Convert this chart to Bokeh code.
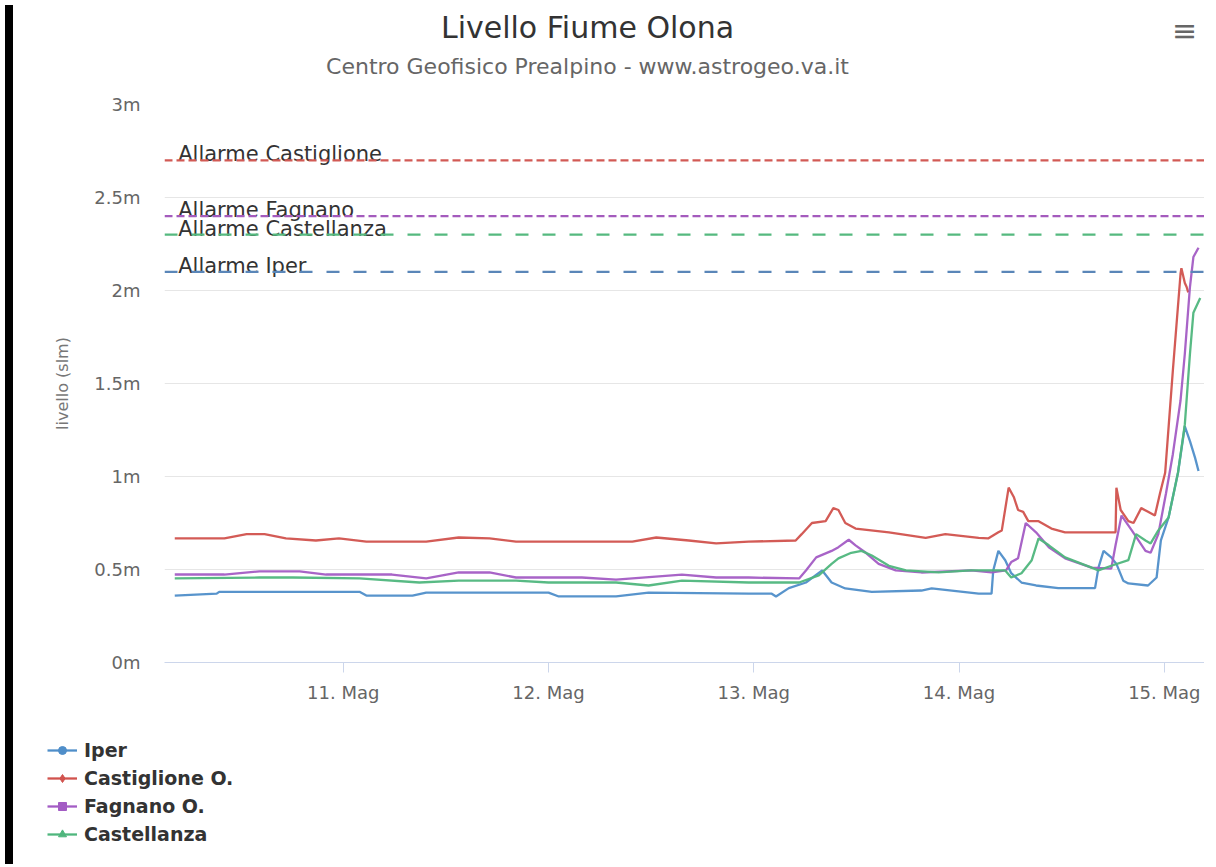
import pandas as pd
from bokeh.plotting import figure
from bokeh.layouts import row, column
from bokeh.models import (Range1d, FixedTicker, DatetimeTickFormatter, Span, Label,
                          Legend, LegendItem, ColumnDataSource, Div)
from bokeh.embed import file_html
from bokeh.resources import INLINE

START = pd.Timestamp("2019-05-10 00:00")

# hours since 10 May 00:00 and level (m)
iper_h = [4.3, 9.2, 9.5, 18.9, 25.9, 26.7, 32.1, 33.7, 48.0, 49.2, 55.9, 59.7, 71.4, 74.1, 74.6,
          76.1, 78.1, 80.0, 81.1, 82.7, 85.8, 91.6, 92.8, 98.3, 99.8, 100.0, 100.6, 101.4, 102.1,
          103.3, 105.0, 107.6, 111.9, 112.3, 112.9, 113.8, 114.4, 115.2, 115.8, 118.1, 119.1,
          119.6, 120.5, 121.6, 122.4, 123.0, 123.6, 124.0]
iper_v = [0.36, 0.37, 0.38, 0.38, 0.38, 0.36, 0.36, 0.376, 0.376, 0.355, 0.355, 0.376, 0.37, 0.37, 0.355,
          0.40, 0.43, 0.495, 0.43, 0.398, 0.38, 0.387, 0.398, 0.37, 0.37, 0.495, 0.60, 0.55, 0.48,
          0.43, 0.414, 0.40, 0.40, 0.51, 0.60, 0.565, 0.53, 0.44, 0.425, 0.414, 0.457,
          0.656, 0.78, 1.02, 1.27, 1.19, 1.10, 1.03]

cast_h = [4.3, 10.1, 12.7, 14.8, 17.3, 20.8, 23.5, 26.7, 33.7, 37.5, 41.1, 44.2, 50.0, 57.8, 60.6,
          64.4, 67.6, 71.4, 76.9, 77.6, 78.8, 80.4, 81.3, 81.9, 82.7, 83.9, 87.8, 92.1, 94.4, 98.3,
          99.4, 100.6, 101.0, 101.8, 102.4, 102.9, 103.5, 104.1, 105.3, 106.8, 108.4, 114.3, 114.4,
          114.9, 115.8, 116.4, 117.3, 118.1, 118.9, 119.5, 120.1, 121.0, 121.9, 122.0, 122.4, 122.6,
          122.8]
cast_v = [0.667, 0.667, 0.69, 0.69, 0.667, 0.656, 0.667, 0.65, 0.65, 0.672, 0.667, 0.65, 0.65, 0.65, 0.672,
          0.656, 0.64, 0.65, 0.656, 0.69, 0.75, 0.76, 0.83, 0.82, 0.75, 0.72, 0.70, 0.67, 0.69, 0.67,
          0.667, 0.70, 0.71, 0.94, 0.89, 0.82, 0.81, 0.76, 0.76, 0.72, 0.70, 0.70, 0.94,
          0.82, 0.76, 0.75, 0.83, 0.81, 0.79, 0.91, 1.02, 1.57, 2.09, 2.12, 2.04, 2.02,
          1.99]

fagn_h = [4.3, 10.1, 14.2, 18.9, 22.0, 29.7, 33.7, 37.5, 41.1, 44.2, 51.9, 55.9, 63.6, 67.6, 71.4,
          77.3, 78.1, 79.3, 81.1, 81.9, 83.1, 83.9, 85.1, 86.6, 88.6, 91.6, 97.4, 99.8, 101.5,
          102.1, 102.9, 103.8, 105.0, 106.5, 108.4, 111.5, 113.8, 114.3, 115.0, 116.2, 117.8,
          118.4, 119.3, 120.2, 121.0, 121.9, 122.4, 123.0, 123.4, 124.0]
fagn_v = [0.473, 0.473, 0.49, 0.49, 0.473, 0.473, 0.452, 0.484, 0.484, 0.457, 0.457, 0.446, 0.473, 0.457, 0.457,
          0.452, 0.495, 0.565, 0.60, 0.62, 0.66, 0.63, 0.59, 0.53, 0.495, 0.484, 0.495, 0.484, 0.495,
          0.54, 0.56, 0.75, 0.70, 0.62, 0.56, 0.51, 0.505, 0.63, 0.79, 0.71, 0.60,
          0.59, 0.69, 0.91, 1.12, 1.41, 1.66, 2.02, 2.18, 2.23]

castel_h = [4.3, 14.2, 18.1, 25.9, 32.9, 37.5, 44.2, 48.0, 55.9, 59.7, 63.6, 71.4, 77.3, 79.6,
            81.1, 81.9, 83.4, 84.6, 85.8, 87.8, 89.8, 93.6, 97.4, 101.4, 102.1, 103.3, 104.5,
            105.3, 106.5, 108.4, 111.5, 112.3, 113.8, 115.8, 116.7, 117.8, 118.4, 119.3, 120.5,
            121.6, 122.4, 123.0, 123.4, 124.2]
castel_v = [0.452, 0.457, 0.457, 0.452, 0.43, 0.44, 0.44, 0.43, 0.43, 0.414, 0.44, 0.43, 0.43, 0.468,
            0.53, 0.56, 0.59, 0.60, 0.575, 0.52, 0.495, 0.484, 0.495, 0.495, 0.457, 0.48, 0.55,
            0.667, 0.63, 0.565, 0.51, 0.495, 0.52, 0.55, 0.69, 0.656, 0.64, 0.71, 0.78,
            1.02, 1.28, 1.66, 1.88, 1.96]

series_names = ["Iper", "Castiglione O.", "Fagnano O.", "Castellanza"]
series_colors = ["#4f8ec9", "#d1524d", "#a35cc4", "#4fb67d"]
series_markers = ["circle", "diamond", "square", "triangle"]

alarm_names = ["Allarme Castiglione", "Allarme Fagnano", "Allarme Castellanza", "Allarme Iper"]
alarm_levels = [2.7, 2.4, 2.3, 2.1]
alarm_colors = ["#d25a55", "#a45bbd", "#55b97f", "#5a86b8"]
alarm_dashes = ["8 4", "8 4", "13 14", "13 14"]

y_ticks = [0, 0.5, 1, 1.5, 2, 2.5, 3]
y_labels = ["0m", "0.5m", "1m", "1.5m", "2m", "2.5m", "3m"]
x_tick_days = ["2019-05-11", "2019-05-12", "2019-05-13", "2019-05-14", "2019-05-15"]
x_labels = ["11. Mag", "12. Mag", "13. Mag", "14. Mag", "15. Mag"]

TITLE = "Livello Fiume Olona"
SUBTITLE = "Centro Geofisico Prealpino - www.astrogeo.va.it"

FONT = "DejaVu Sans"
W = 1186


def to_time(hours):
    return [START + pd.Timedelta(hours=h) for h in hours]


def no_align(f):
    try:
        f.frame_align = False
    except Exception:
        pass


def blank(h):
    f = figure(width=W, height=h, output_backend="svg", toolbar_location=None,
               x_axis_location=None, y_axis_location=None,
               min_border=0, min_border_left=0, min_border_right=0,
               min_border_top=0, min_border_bottom=0)
    f.x_range = Range1d(0, 1)
    f.y_range = Range1d(0, 1)
    f.grid.visible = False
    f.outline_line_color = None
    no_align(f)
    return f


all_h = [iper_h, cast_h, fagn_h, castel_h]
all_v = [iper_v, cast_v, fagn_v, castel_v]
sources = [ColumnDataSource(dict(t=to_time(hs), v=vs)) for hs, vs in zip(all_h, all_v)]

# ---------- header ----------
hdr = blank(90)
hdr.add_layout(Label(x=569, y=63, x_units="screen", y_units="screen", text=TITLE,
                     text_align="center", text_baseline="alphabetic", text_font=FONT,
                     text_font_size="30px", text_color="#333333"))
hdr.add_layout(Label(x=569, y=24, x_units="screen", y_units="screen", text=SUBTITLE,
                     text_align="center", text_baseline="alphabetic", text_font=FONT,
                     text_font_size="22px", text_color="#666666"))
hdr.add_layout(Label(x=1166, y=60, x_units="screen", y_units="screen", text="≡",
                     text_align="center", text_baseline="middle", text_font=FONT,
                     text_font_size="30px", text_color="#666666"))

# ---------- main chart ----------
p = figure(width=W, height=630, x_axis_type="datetime",
           output_backend="svg", toolbar_location=None,
           min_border_left=146, min_border_right=0, min_border_top=14, min_border_bottom=58)
no_align(p)
p.x_range = Range1d(START + pd.Timedelta(hours=3.1), START + pd.Timedelta(hours=124.7))
p.y_range = Range1d(0, 3)
p.outline_line_color = None
p.background_fill_color = "white"
p.border_fill_color = "white"

yax = p.yaxis[0]
yax.ticker = FixedTicker(ticks=y_ticks)
yax.major_label_overrides = {t: l for t, l in zip(y_ticks, y_labels)}
yax.axis_line_color = None
yax.major_tick_line_color = None
yax.minor_tick_line_color = None
yax.major_label_text_font = FONT
yax.major_label_text_font_size = "18px"
yax.major_label_text_color = "#666666"
yax.major_label_standoff = 18
yax.axis_label = "livello (slm)"
yax.axis_label_text_font = FONT
yax.axis_label_text_font_size = "16px"
yax.axis_label_text_font_style = "normal"
yax.axis_label_text_color = "#777777"
yax.axis_label_standoff = 19

x_ms = [int(pd.Timestamp(d).value // 10**6) for d in x_tick_days]
xax = p.xaxis[0]
xax.ticker = FixedTicker(ticks=x_ms)
xax.formatter = DatetimeTickFormatter(days="%d. Mag", hours="%d. Mag", hourmin="%d. Mag",
                                      months="%d. Mag", minutes="%d. Mag")
xax.major_label_overrides = {t: l for t, l in zip(x_ms, x_labels)}
xax.axis_line_color = "#ccd6eb"
xax.major_tick_line_color = "#ccd6eb"
xax.major_tick_out = 10
xax.major_tick_in = 0
xax.minor_tick_line_color = None
xax.major_label_text_font = FONT
xax.major_label_text_font_size = "18px"
xax.major_label_text_color = "#666666"
xax.major_label_standoff = 9

p.xgrid.grid_line_color = None
p.ygrid.grid_line_color = "#e6e6e6"
p.ygrid.ticker = FixedTicker(ticks=y_ticks)

for name, lvl in zip(alarm_names, alarm_levels):
    p.add_layout(Label(x=START + pd.Timedelta(hours=4.7), y=lvl, y_offset=6, text=name,
                       text_font=FONT, text_font_size="21px", text_color="#333333",
                       text_baseline="alphabetic"))
for lvl, col, dash in zip(alarm_levels, alarm_colors, alarm_dashes):
    p.add_layout(Span(location=lvl, dimension="width", line_color=col, line_width=2.2,
                      line_dash=dash))

for col, src in zip(series_colors, sources):
    p.line("t", "v", source=src, line_color=col, line_width=2.3, line_alpha=0.95)

# ---------- legend (series proxies lie outside this panel's ranges) ----------
leg = blank(139)
items = []
for name, col, mk, src in zip(series_names, series_colors, series_markers, sources):
    lr = leg.line("t", "v", source=src, line_color=col, line_width=2.3)
    mr = leg.scatter("t", "v", source=src, marker=mk, size=10, fill_color=col, line_color=col)
    items.append(LegendItem(label=name, renderers=[lr, mr]))
legend = Legend(items=items, location=(29, 14), orientation="vertical",
                padding=0, margin=0, spacing=6, glyph_width=30, glyph_height=20,
                label_height=20, label_standoff=7, label_text_font=FONT,
                label_text_font_size="19px", label_text_color="#333333",
                label_text_font_style="bold", border_line_color=None,
                background_fill_alpha=0)
leg.add_layout(legend, "center")

bar = Div(text="", width=8, height=859, styles={"background-color": "black"})
layout = row(bar, column(hdr, p, leg))

open("out.html", "w").write(file_html(layout, INLINE))
